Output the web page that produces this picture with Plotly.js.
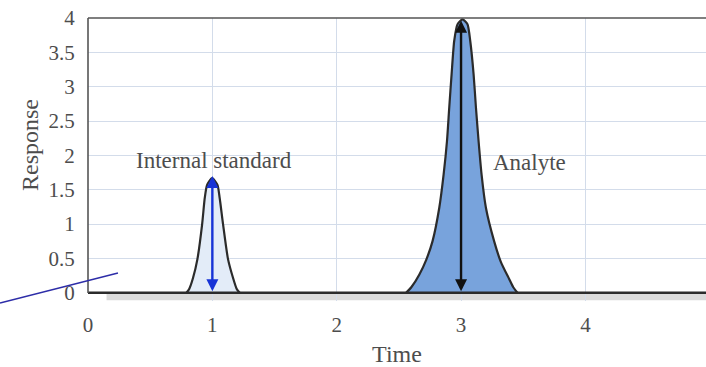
<!DOCTYPE html>
<html>
<head>
<meta charset="utf-8">
<script src="https://cdn.plot.ly/plotly-3.0.1.min.js"></script>
<style>html,body{margin:0;padding:0;background:#fff;}#chart{width:706px;height:367px;}</style>
</head>
<body>
<div id="chart"></div>
<script>
// Internal standard peak (time, response)
const istdTime = [0.792, 0.815, 0.845, 0.880, 0.918, 0.939, 0.958, 0.998, 1.041, 1.059, 1.086, 1.126, 1.166, 1.195, 1.22];
const istdResp = [0, 0.06, 0.218, 0.49, 1.0, 1.38, 1.57, 1.67, 1.57, 1.38, 1.0, 0.49, 0.218, 0.06, 0];
// Analyte peak (time, response)
const analyteTime = [2.558, 2.60, 2.665, 2.72, 2.771, 2.825, 2.860, 2.887, 2.905, 2.924, 2.945, 2.972, 3.012, 3.052, 3.074, 3.101, 3.120, 3.141, 3.165, 3.200, 3.266, 3.32, 3.387, 3.42, 3.454];
const analyteResp = [0, 0.08, 0.267, 0.48, 0.752, 1.238, 1.723, 2.209, 2.694, 3.18, 3.665, 3.908, 3.98, 3.908, 3.665, 3.18, 2.694, 2.209, 1.723, 1.238, 0.752, 0.45, 0.2, 0.08, 0];
// Baseline endpoints
const baseTime = [0, 4.97];
const baseResp = [0, 0];
// Peak-height arrows
const arrowTime = [1, 3];
const arrowTop = [1.7, 3.96];
const arrowColors = ['#1733d6', '#111111'];
// Labels
const peakLabels = ['Internal standard', 'Analyte'];
const labelTime = [1.01, 3.55];
const labelResp = [1.93, 1.89];
// Ticks
const xTicks = [0, 1, 2, 3, 4, 5];
const yTicks = [0, 0.5, 1, 1.5, 2, 2.5, 3, 3.5, 4];
const yTickText = ['0', '0.5', '1', '1.5', '2', '2.5', '3', '3.5', '4'];

const serif = 'Liberation Serif, Times New Roman, serif';
const textCol = '#4d4d4d';
const peakLine = {color: '#2b2b2b', width: 2.2, shape: 'spline', smoothing: 0.6};

const traces = [
  {x: istdTime, y: istdResp, type: 'scatter', mode: 'lines', fill: 'tozeroy',
   fillcolor: '#e3ecf8', line: peakLine, hoverinfo: 'skip'},
  {x: analyteTime, y: analyteResp, type: 'scatter', mode: 'lines', fill: 'tozeroy',
   fillcolor: '#78a3dc', line: peakLine, hoverinfo: 'skip'},
  {x: baseTime, y: baseResp, type: 'scatter', mode: 'lines',
   line: {color: '#2b2b2b', width: 2.4}}
];

const annotations = [];
for (let i = 0; i < arrowTime.length; i++) {
  annotations.push({
    x: arrowTime[i], y: arrowTop[i], xref: 'x', yref: 'y',
    ax: arrowTime[i], ay: 0, axref: 'x', ayref: 'y',
    text: '', showarrow: true, arrowside: 'end+start',
    arrowhead: 2, startarrowhead: 2, arrowsize: 1, startarrowsize: 1,
    arrowwidth: 2.4, arrowcolor: arrowColors[i], standoff: 0, startstandoff: 0
  });
}
for (let i = 0; i < peakLabels.length; i++) {
  annotations.push({
    x: labelTime[i], y: labelResp[i], xref: 'x', yref: 'y', text: peakLabels[i],
    showarrow: false, font: {family: serif, size: 23, color: textCol}
  });
}
annotations.push({
  x: -0.094, y: 0.551, xref: 'paper', yref: 'paper', xanchor: 'center', yanchor: 'middle',
  text: 'Response', textangle: -90,
  showarrow: false, font: {family: serif, size: 24, color: textCol}
});

const layout = {
  width: 706, height: 367,
  margin: {l: 88, r: 0, t: 18, b: 66},
  paper_bgcolor: '#ffffff', plot_bgcolor: '#ffffff',
  showlegend: false,
  xaxis: {
    range: [0, 4.97], tickvals: xTicks, ticktext: xTicks.map(String),
    showgrid: true, gridcolor: '#d3dcea', gridwidth: 1, zeroline: false, showline: false,
    ticks: 'outside', ticklen: 5, tickcolor: 'rgba(0,0,0,0)',
    tickfont: {family: serif, size: 21, color: textCol},
    title: {text: 'Time', font: {family: serif, size: 24, color: textCol}, standoff: 9}
  },
  yaxis: {
    range: [-0.12, 4], tickvals: yTicks, ticktext: yTickText,
    showgrid: true, gridcolor: '#d3dcea', gridwidth: 1, zeroline: false, showline: false,
    ticks: 'outside', ticklen: 8, tickcolor: 'rgba(0,0,0,0)',
    tickfont: {family: serif, size: 21, color: textCol}
  },
  annotations: annotations,
  shapes: [
    {type: 'rect', xref: 'paper', yref: 'paper', x0: 0.03, x1: 1, y0: 0.003, y1: 0.026,
     fillcolor: 'rgba(150,150,150,0.35)', line: {width: 0}, layer: 'below'},
    {type: 'line', xref: 'paper', yref: 'paper', x0: 0, x1: 0, y0: 0.028, y1: 1,
     line: {color: '#555555', width: 1.6}},
    {type: 'line', xref: 'paper', yref: 'paper', x0: 0, x1: 1, y0: 1, y1: 1,
     line: {color: '#555555', width: 1.6}},
    {type: 'line', xref: 'paper', yref: 'paper', x0: -0.1424, x1: 0.0485, y0: -0.007, y1: 0.099,
     line: {color: '#2d2da8', width: 1.5}}
  ]
};

Plotly.newPlot('chart', traces, layout, {displayModeBar: false, staticPlot: true});
</script>
</body>
</html>
